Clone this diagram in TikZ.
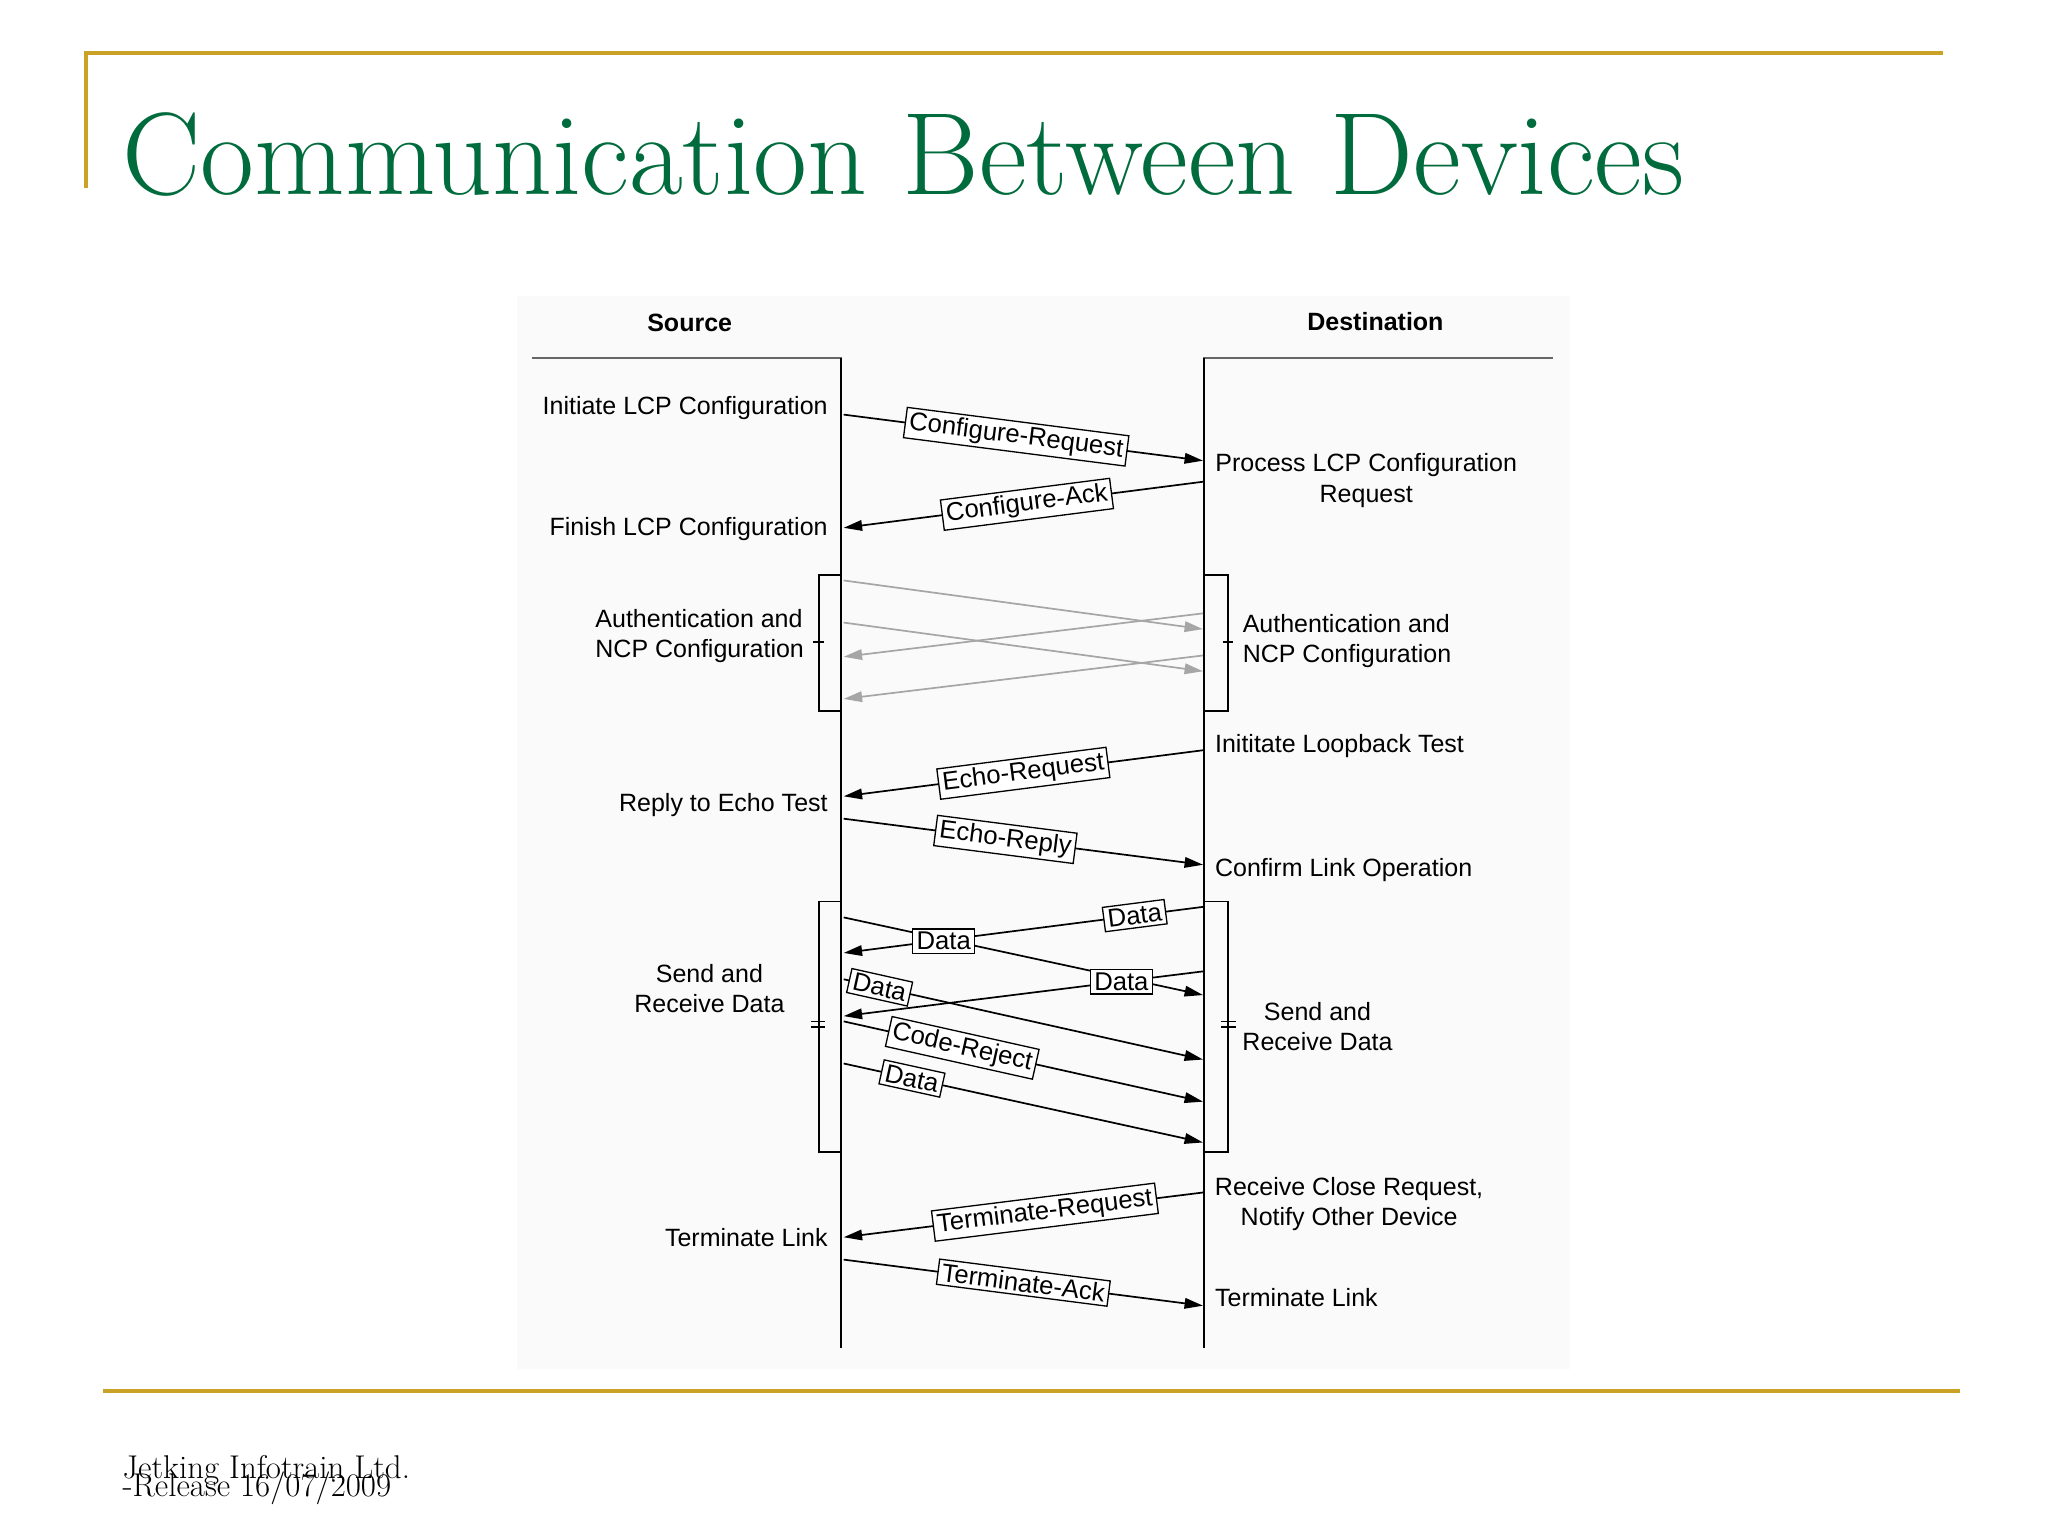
\documentclass[tikz,border=0pt]{standalone}
\usepackage{fontspec}
\setsansfont{Liberation Sans}
\usetikzlibrary{arrows.meta}
\definecolor{gold}{HTML}{C9A227}
\definecolor{titlegreen}{HTML}{006B3C}
\tikzset{
  msg/.style={draw=black, line width=1.3pt, -{Triangle[length=14pt,width=8pt]}},
  gmsg/.style={draw=gray!70, line width=1.3pt, -{Triangle[length=14pt,width=8pt]}},
  lbl/.style={draw=black, fill=white, line width=1pt, inner xsep=3pt, inner ysep=2.5pt, font=\sffamily\fontsize{19.5}{19.5}\selectfont, sloped},
  txt/.style={font=\sffamily\fontsize{19}{23}\selectfont, inner sep=0pt},
  hdr/.style={font=\sffamily\bfseries\fontsize{19}{23}\selectfont, inner sep=0pt},
  brk/.style={draw=black, line width=1.3pt},
  life/.style={draw=black, line width=1.3pt},
  hline/.style={draw=gray!80!black, line width=2pt}
}
\begin{document}
\begin{tikzpicture}[x=1pt,y=-1pt]
\useasboundingbox (0,0) rectangle (1556,1168);
\fill[white] (0,0) rectangle (1556,1168);
\fill[black!2] (393,225) rectangle (1193,1040);
% frame lines
\draw[gold, line width=3pt] (65,143) -- (65,40) -- (1476,40);
\draw[gold, line width=3pt] (78,1057) -- (1489,1057);
\node[anchor=base west, inner sep=0pt, text=titlegreen, font=\fontsize{89}{89}\selectfont] (title) at (93,148) {Communication Between Devices};
\node[anchor=base west, inner sep=0pt, font=\fontsize{25}{25}\selectfont] (f1) at (93,1123) {Jetking Infotrain Ltd.};
\node[anchor=base west, inner sep=0pt, font=\fontsize{25}{25}\selectfont] (f2) at (93,1137) {-Release 16/07/2009};
% headers
\node[hdr] (src) at (524,245) {Source};
\node[hdr] (dst) at (1045,244) {Destination};
\draw[hline] (404,272) -- (640,272);
\draw[hline] (914,272) -- (1180,272);
\coordinate (stop) at (639,272); \coordinate (sbot) at (639,1024);
\coordinate (dtop) at (915,272); \coordinate (dbot) at (915,1024);
\draw[life] (stop) -- (sbot);
\draw[life] (dtop) -- (dbot);
% side texts
\node[txt, anchor=east] (t1) at (629,310) {Initiate LCP Configuration};
\node[txt, align=center] (t2) at (1038,365) {Process LCP Configuration\\Request};
\node[txt, anchor=east] (t3) at (629,402) {Finish LCP Configuration};
\node[txt, anchor=east, align=left] (t4) at (611,483) {Authentication and\\NCP Configuration};
\node[txt, anchor=west, align=left] (t5) at (944,487) {Authentication and\\NCP Configuration};
\node[txt, anchor=west] (t6) at (923,567) {Inititate Loopback Test};
\node[txt, anchor=east] (t7) at (629,612) {Reply to Echo Test};
\node[txt, anchor=west] (t8) at (923,661) {Confirm Link Operation};
\node[txt, align=center] (t9) at (539,751) {Send and\\Receive Data};
\node[txt, align=center] (t10) at (1001,780) {Send and\\Receive Data};
\node[txt, align=center] (t11) at (1025,915) {Receive Close Request,\\Notify Other Device};
\node[txt, anchor=east] (t12) at (629,940) {Terminate Link};
\node[txt, anchor=west] (t13) at (923,986) {Terminate Link};
% endpoints
\coordinate (a1) at (641,315); \coordinate (b1) at (914,350);
\coordinate (b2) at (914,366); \coordinate (a2) at (641,401);
\coordinate (g1s) at (641,441); \coordinate (g1d) at (914,478);
\coordinate (g2s) at (641,473); \coordinate (g2d) at (914,510);
\coordinate (g3d) at (914,466); \coordinate (g3s) at (641,499);
\coordinate (g4d) at (914,498); \coordinate (g4s) at (641,531);
\coordinate (b3) at (914,570); \coordinate (a3) at (641,605);
\coordinate (a4) at (641,622); \coordinate (b4) at (914,657);
\coordinate (Aa) at (641,697); \coordinate (Ab) at (914,756);
\coordinate (Bb) at (914,689); \coordinate (Ba) at (641,724);
\coordinate (Cb) at (914,738); \coordinate (Ca) at (641,772);
\coordinate (Da) at (641,744); \coordinate (Db) at (914,805);
\coordinate (Ea) at (641,776); \coordinate (Eb) at (914,837);
\coordinate (Fa) at (641,808); \coordinate (Fb) at (914,868);
\coordinate (b5) at (914,906); \coordinate (a5) at (641,940);
\coordinate (a6) at (641,957); \coordinate (b6) at (914,992);
% messages
\draw[msg] (a1) -- node[lbl, pos=0.48] (l1) {Configure-Request} (b1);
\draw[msg] (b2) -- node[lbl, pos=0.49] (l2) {Configure-Ack} (a2);
\draw[gmsg] (g1s) -- (g1d);
\draw[gmsg] (g2s) -- (g2d);
\draw[gmsg] (g3d) -- (g3s);
\draw[gmsg] (g4d) -- (g4s);
\draw[msg] (b3) -- node[lbl, pos=0.50] (l3) {Echo-Request} (a3);
\draw[msg] (a4) -- node[lbl, pos=0.45] (l4) {Echo-Reply} (b4);
\draw[msg] (Aa) -- (Ab);
\draw[msg] (Bb) -- node[lbl, pos=0.19] (l5) {Data} (Ba);
\draw[msg] (Cb) -- (Ca);
\node[lbl, sloped=false] (l6) at (717,715) {Data};
\node[lbl, sloped=false] (l7) at (852,746) {Data};
\draw[msg] (Da) -- node[lbl, pos=0.10] (l8) {Data} (Db);
\draw[msg] (Ea) -- node[lbl, pos=0.33] (l9) {Code-Reject} (Eb);
\draw[msg] (Fa) -- node[lbl, pos=0.19] (l10) {Data} (Fb);
\draw[msg] (b5) -- node[lbl, pos=0.44] (l11) {Terminate-Request} (a5);
\draw[msg] (a6) -- node[lbl, pos=0.50] (l12) {Terminate-Ack} (b6);
% brackets
\draw[brk] (639,437) -- (622,437) -- (622,540) -- (639,540);
\draw[brk] (618,488) -- (626,488);
\draw[brk] (915,437) -- (933,437) -- (933,540) -- (915,540);
\draw[brk] (929,488) -- (937,488);
\draw[brk] (639,685) -- (622,685) -- (622,875) -- (639,875);
\draw[brk] (616,776) -- (627,776); \draw[brk] (616,780) -- (627,780);
\draw[brk] (915,685) -- (933,685) -- (933,875) -- (915,875);
\draw[brk] (928,776) -- (939,776); \draw[brk] (928,780) -- (939,780);
\end{tikzpicture}
\end{document}
